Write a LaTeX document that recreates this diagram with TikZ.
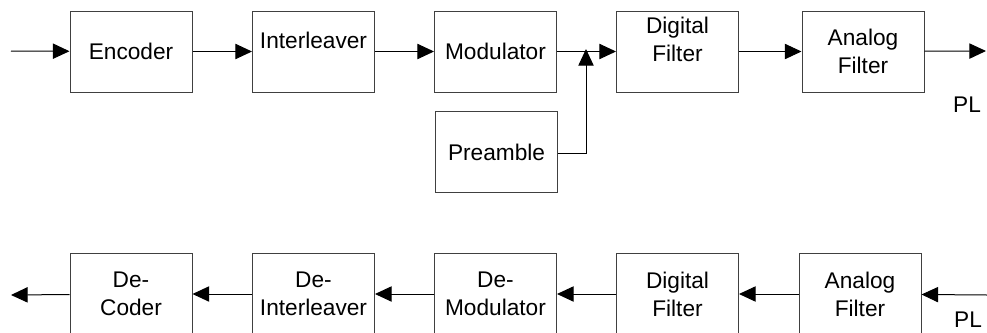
\documentclass[tikz,border=0pt]{standalone}
\usepackage{fontspec}
\setmainfont{Liberation Sans}
\usetikzlibrary{arrows.meta}
\tikzset{
  blk/.style={draw=black!75, line width=0.75pt, minimum width=91.5pt, minimum height=60.75pt,
    align=center, inner sep=0pt, font=\fontsize{17}{23}\selectfont},
  wire/.style={draw=black, line width=0.75pt, -{Triangle[length=12.5pt,width=11.5pt]}},
}

\begin{document}
\begin{tikzpicture}[x=0.75pt, y=-0.75pt]
\useasboundingbox (0,0) rectangle (987,332);
% transmitter chain
\node[blk] (enc) at (131,51.5) {Encoder};
\node[blk] (ilv) at (313.5,51.5) {Interleaver\\[-6pt]};
\node[blk] (mod) at (495.5,51.5) {Modulator};
\node[blk] (dft) at (677.5,51.5) {Digital\\[-2pt]Filter\\[-4pt]};
\node[blk] (aft) at (863,51.5) {Analog\\[-2pt]Filter};
\node[blk] (pre) at (496.5,152) {Preamble};
\coordinate (txin) at (11,51);
\coordinate (join) at (586,51);
\coordinate (txout) at (986,51);
\node[font=\fontsize{17}{20}\selectfont] (pltx) at (967,105) {PL};
\draw[wire] (txin) -- (enc);
\draw[wire] (enc) -- (ilv);
\draw[wire] (ilv) -- (mod);
\draw[wire] (mod) -- (dft);
\draw[wire] (pre.east |- 0,153) -| ([yshift=1.5pt]join);
\draw[wire] (dft) -- (aft);
\draw[wire] (aft) -- (txout);
% receiver chain
\node[blk] (dec) at (131,294) {De-\\[-2pt]Coder};
\node[blk] (dilv) at (313.5,294) {De-\\[-2pt]Interleaver};
\node[blk] (dmod) at (495.5,294) {De-\\[-2pt]Modulator};
\node[blk] (rdft) at (677.5,294) {Digital\\[-2pt]Filter};
\node[blk] (raft) at (860,294) {Analog\\[-2pt]Filter};
\coordinate (rxin) at (987,295);
\coordinate (rxout) at (11,295);
\node[font=\fontsize{17}{20}\selectfont] (plrx) at (968,320) {PL};
\draw[wire] (rxin) -- (raft);
\draw[wire] (raft) -- (rdft);
\draw[wire] (rdft) -- (dmod);
\draw[wire] (dmod) -- (dilv);
\draw[wire] (dilv) -- (dec);
\draw[wire] (dec) -- (rxout);
\end{tikzpicture}
\end{document}
